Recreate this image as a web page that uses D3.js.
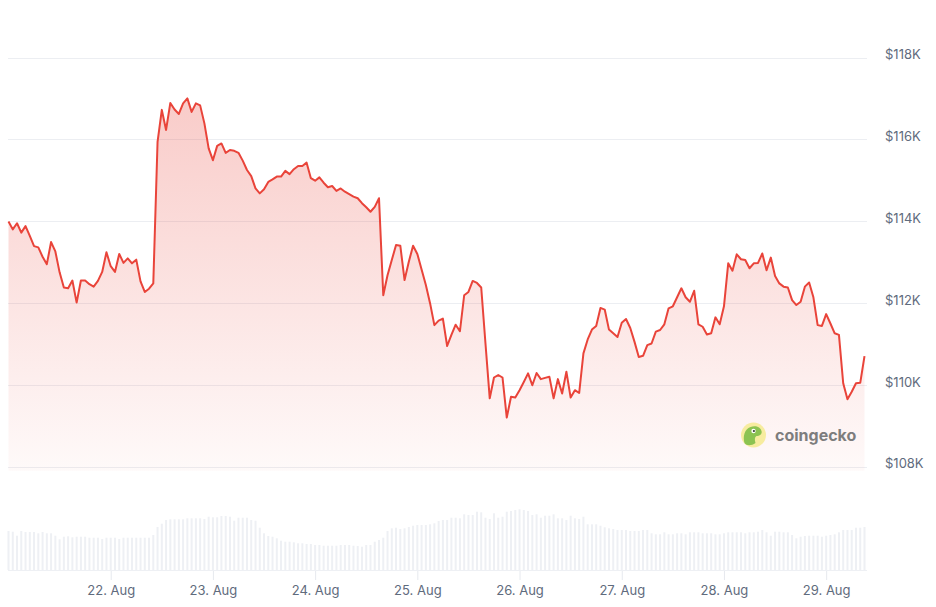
<!DOCTYPE html>
<html>
<head>
<meta charset="utf-8">
<script src="https://cdn.jsdelivr.net/npm/d3@7"></script>
<style>
  html, body { margin: 0; padding: 0; background: #ffffff; }
  svg { display: block; }
  text { font-family: Inter, "Noto Sans", sans-serif; }
</style>
</head>
<body>
<svg id="chart" width="936" height="607"></svg>
<script>
// ---- DATA ----
// hourly samples starting 21 Aug 2025 00:00 UTC
const startTime = Date.UTC(2025, 7, 21, 0, 0, 0);
const stepHours = 1;

// BTC price in thousands of USD
const priceK = [
  113.99, 113.80, 113.95, 113.72, 113.88, 113.64, 113.39, 113.36, 113.13, 112.95,
  113.49, 113.26, 112.75, 112.38, 112.36, 112.55, 112.01, 112.55, 112.55, 112.46,
  112.40, 112.54, 112.76, 113.24, 112.90, 112.76, 113.20, 112.98, 113.09, 112.97,
  113.06, 112.53, 112.27, 112.35, 112.48, 115.94, 116.72, 116.23, 116.89, 116.73,
  116.62, 116.88, 117.00, 116.67, 116.88, 116.83, 116.39, 115.78, 115.49,
  115.84, 115.90, 115.67, 115.74, 115.72, 115.67, 115.48, 115.25, 115.10, 114.80,
  114.68, 114.78, 114.96, 115.02, 115.09, 115.09, 115.23, 115.15, 115.27, 115.35,
  115.35, 115.43, 115.05, 114.99, 115.07, 114.94, 114.83, 114.86, 114.74, 114.80,
  114.72, 114.66, 114.60, 114.56, 114.44, 114.34, 114.23, 114.35, 114.56, 112.19,
  112.68, 113.05, 113.42, 113.40, 112.56, 113.01, 113.40, 113.20, 112.82, 112.44,
  111.99,
  111.46, 111.57, 111.62, 110.95, 111.22, 111.47, 111.31, 112.19, 112.27, 112.54,
  112.49, 112.38, 111.01, 109.67, 110.18, 110.24, 110.18, 109.20, 109.71, 109.69,
  109.87, 110.07, 110.28, 109.99, 110.29, 110.14, 110.17, 110.20, 109.67, 110.14,
  109.79, 110.32, 109.69, 109.87, 109.80, 110.77, 111.11, 111.35, 111.44, 111.88,
  111.84, 111.35, 111.26, 111.17, 111.52, 111.61, 111.39, 111.05, 110.68, 110.71,
  110.97,
  111.01, 111.30, 111.34, 111.48, 111.87, 111.92, 112.14, 112.36, 112.14, 112.03,
  112.30, 111.48, 111.42, 111.23, 111.26, 111.65, 111.48, 111.92, 112.97, 112.79,
  113.19, 113.07, 113.05, 112.85, 112.97, 112.98, 113.21, 112.80, 113.11, 112.66,
  112.48, 112.40, 112.38, 112.07, 111.95, 112.03, 112.40, 112.50, 112.14, 111.46,
  111.44, 111.73, 111.50, 111.26, 111.22, 110.04, 109.65, 109.83, 110.04, 110.05,
  110.70
];

// 24h trading volume, billions of USD
const volumeB = [
  39, 38.3, 34.3, 39, 38, 38, 38, 36.7, 38, 36.7,
  36.7, 34.3, 30.7, 33.3, 33.7, 32.7, 33.3, 33.3, 33.3, 32.3,
  32.3, 32.3, 31, 32.3, 32.3, 32.3, 31, 32.3, 32.3, 32.3,
  32.3, 32.3, 32.3, 32.3, 35, 43, 46.3, 50, 50.7, 50.7,
  50.7, 50.7, 51.7, 51.7, 51.7, 51.7, 51, 53.3, 52.7, 52.7,
  54, 54, 53.3, 49.3, 52.3, 52.3, 52.3, 50, 49.3, 42.3,
  36.7, 34, 33.3, 31.7, 29.3, 28.3, 28.3, 27.7, 26.7, 26.7,
  26, 26, 25, 25, 24.3, 24.3, 24.3, 24.3, 25, 25,
  25, 24.3, 24, 23.3, 25, 25, 28.3, 30, 32.3, 39,
  41.7, 42.3, 41, 41.7, 43, 44.3, 45, 45, 45, 45.7,
  46.7, 49, 50, 50, 52.3, 52.3, 51.7, 55.7, 55, 55,
  58.3, 57.7, 52.3, 51, 56.7, 52.3, 53.3, 58.3, 59, 60,
  60.7, 60, 59, 55, 55.7, 52.3, 54.3, 54.3, 55.7, 51.7,
  51.7, 50, 54.3, 51.7, 51, 53.3, 45.7, 45.7, 45.7, 44.3,
  42.7, 41.7, 41, 40, 40, 40, 39, 39, 39, 40,
  40, 36.7, 35.7, 35.7, 37.7, 35.7, 35.7, 36.7, 36.7, 35.7,
  37.7, 37.7, 37.7, 36.7, 36.7, 36.7, 35.7, 35.7, 36.7, 37.7,
  37.7, 37.7, 37.7, 36.7, 37.7, 37.7, 38.3, 40, 37.7, 34.3,
  38.3, 38.3, 37.7, 37.7, 35, 31.7, 33.3, 34, 34.3, 34.3,
  34.3, 33.3, 34.3, 35, 35.7, 37.7, 40, 40, 40, 42.3,
  42.3, 43
];

const priceTicksK = [108, 110, 112, 114, 116, 118];
const dayTicks = [22, 23, 24, 25, 26, 27, 28, 29]; // August

// ---- CHART ----
const svg = d3.select("#chart");
const W = 936, H = 607;
svg.append("rect").attr("width", W).attr("height", H).attr("fill", "#ffffff");

const data = priceK.map((p, i) => ({
  t: new Date(startTime + i * stepHours * 3600e3),
  p: p,
  v: volumeB[i]
}));

const x = d3.scaleUtc()
  .domain([data[0].t, data[data.length - 1].t])
  .range([8.5, 864.5]);

const y = d3.scaleLinear().domain([108, 118]).range([466.7, 57.5]);
const yVol = d3.scaleLinear().domain([0, 70]).range([570, 500]);

const gridX0 = 8, gridX1 = 867;

// gradient
const defs = svg.append("defs");
const grad = defs.append("linearGradient")
  .attr("id", "areaGrad")
  .attr("gradientUnits", "userSpaceOnUse")
  .attr("x1", 0).attr("x2", 0)
  .attr("y1", y(117.2)).attr("y2", y(107.9));
grad.append("stop").attr("offset", 0).attr("stop-color", "#e9443a").attr("stop-opacity", 0.28);
grad.append("stop").attr("offset", 1).attr("stop-color", "#e9443a").attr("stop-opacity", 0.03);

// grid lines
svg.append("g").selectAll("line")
  .data(priceTicksK)
  .join("line")
  .attr("x1", gridX0).attr("x2", gridX1)
  .attr("y1", d => Math.round(y(d)) + 0.5)
  .attr("y2", d => Math.round(y(d)) + 0.5)
  .attr("stroke", "#eceef2")
  .attr("stroke-width", 1);

// volume bars
svg.append("g").selectAll("rect")
  .data(data)
  .join("rect")
  .attr("x", d => x(d.t) - 1)
  .attr("width", 2)
  .attr("y", d => yVol(d.v))
  .attr("height", d => yVol(0) - yVol(d.v))
  .attr("fill", "#eef0f4");

// x axis baseline + ticks
const xAxis = d3.axisBottom(x)
  .tickValues(dayTicks.map(d => new Date(Date.UTC(2025, 7, d))))
  .tickFormat(d3.utcFormat("%-d. %b"))
  .tickSize(10)
  .tickPadding(6);
const gx = svg.append("g").attr("transform", "translate(0,570)").call(xAxis);
gx.select(".domain").remove();
gx.selectAll(".tick line").attr("stroke", "#e6e9ee");
gx.selectAll(".tick text")
  .attr("fill", "#5f6b7d")
  .attr("font-size", "13px")
  .attr("font-family", "Inter, 'Noto Sans', sans-serif");
svg.append("line")
  .attr("x1", gridX0).attr("x2", gridX1)
  .attr("y1", 570.5).attr("y2", 570.5)
  .attr("stroke", "#eef0f4");

// area
const area = d3.area()
  .x(d => x(d.t))
  .y0(y(107.9))
  .y1(d => y(d.p));
svg.append("path").datum(data).attr("d", area).attr("fill", "url(#areaGrad)");

// line
const line = d3.line().x(d => x(d.t)).y(d => y(d.p));
svg.append("path").datum(data)
  .attr("d", line)
  .attr("fill", "none")
  .attr("stroke", "#e9443a")
  .attr("stroke-width", 2)
  .attr("stroke-linejoin", "round");

// y axis labels
const yAxis = d3.axisRight(y)
  .tickValues(priceTicksK)
  .tickFormat(d => "$" + d + "K")
  .tickSize(0)
  .tickPadding(0);
const gy = svg.append("g").attr("transform", "translate(885,-3)").call(yAxis);
gy.select(".domain").remove();
gy.selectAll(".tick text")
  .attr("fill", "#5f6b7d")
  .attr("font-size", "13px")
  .attr("font-family", "Inter, 'Noto Sans', sans-serif");

// coingecko watermark
const logo = svg.append("g").attr("transform", "translate(753.5,435)");
logo.append("circle").attr("r", 12.5).attr("fill", "#f7ec9f");
logo.append("path")
  .attr("d", "M-9,8 C-11,2 -9,-6 -3,-8 C2,-10 7,-8 8,-4 C9,-1 6,1 3,1 C1,2 1,5 2,8 C-2,11 -7,11 -9,8 Z")
  .attr("fill", "#8cc351");
logo.append("circle").attr("cx", 0).attr("cy", -4).attr("r", 2.2).attr("fill", "#ffffff");
logo.append("circle").attr("cx", 0.4).attr("cy", -4).attr("r", 1.1).attr("fill", "#3a3a3a");
svg.append("text")
  .attr("x", 775).attr("y", 435)
  .attr("dy", "0.35em")
  .attr("font-size", "16px")
  .attr("font-weight", 700)
  .attr("fill", "#7d7d7d")
  .text("coingecko");
</script>
</body>
</html>
